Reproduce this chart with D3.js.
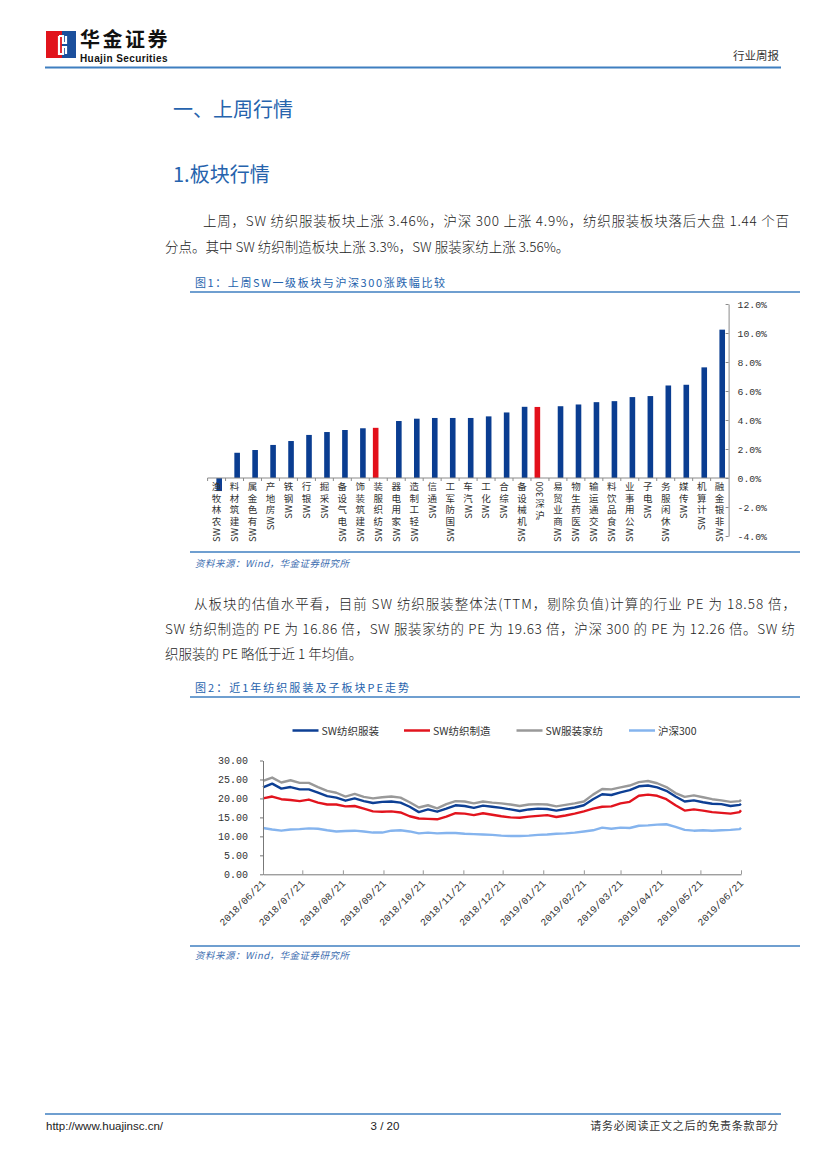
<!DOCTYPE html>
<html><head><meta charset="utf-8">
<script src="https://cdn.jsdelivr.net/npm/d3@7"></script>
<style>
html,body{margin:0;padding:0;background:#fff;}
svg{display:block;}
</style></head>
<body><svg id="page" width="827" height="1169"></svg>
<script>
// ---------- data: chart 1 ----------
const barCategories = ["SW农林牧渔","SW建筑材料","SW有色金属","SW房地产","SW钢铁","SW银行","SW采掘","SW电气设备","SW建筑装饰","SW纺织服装","SW家用电器","SW轻工制造","SW通信","SW国防军工","SW汽车","SW化工","SW综合","SW机械设备","沪深300","SW商业贸易","SW医药生物","SW交通运输","SW食品饮料","SW公用事业","SW电子","SW休闲服务","SW传媒","SW计算机","SW非银金融"];
const barValues = [-0.9,1.74,1.93,2.28,2.55,2.97,3.17,3.31,3.43,3.46,3.93,4.09,4.14,4.14,4.14,4.25,4.52,4.91,4.9,4.95,5.07,5.23,5.3,5.58,5.65,6.38,6.43,7.63,10.23];
const highlightCats = ["SW纺织服装","沪深300"];
const barTicks = [-4,-2,0,2,4,6,8,10,12];

// ---------- data: chart 2 ----------
const peDates = ["2018-06-21","2018-06-28","2018-07-05","2018-07-12","2018-07-19","2018-07-26","2018-08-02","2018-08-09","2018-08-16","2018-08-23","2018-08-30","2018-09-06","2018-09-13","2018-09-20","2018-09-27","2018-10-04","2018-10-11","2018-10-18","2018-10-25","2018-11-01","2018-11-08","2018-11-15","2018-11-22","2018-11-29","2018-12-06","2018-12-13","2018-12-20","2018-12-27","2019-01-03","2019-01-10","2019-01-17","2019-01-24","2019-01-31","2019-02-07","2019-02-14","2019-02-21","2019-02-28","2019-03-07","2019-03-14","2019-03-21","2019-03-28","2019-04-04","2019-04-11","2019-04-18","2019-04-25","2019-05-02","2019-05-09","2019-05-16","2019-05-23","2019-05-30","2019-06-06","2019-06-13","2019-06-20","2019-06-21"];
const peTextile = [22.9,23.9,22.6,23.0,22.4,22.4,21.5,20.6,20.2,19.4,20.0,19.3,18.8,19.1,19.2,18.9,17.8,16.4,17.1,16.5,17.3,18.2,18.0,17.5,18.1,17.8,17.5,17.1,16.7,17.1,17.3,17.2,16.8,17.2,17.6,18.2,19.8,21.1,20.9,21.6,22.2,23.2,23.4,22.9,22.0,20.5,19.2,19.5,19.0,18.6,18.5,18.0,18.3,18.58];
const peManufacture = [20.0,20.5,19.8,19.6,19.3,19.7,18.9,18.4,18.4,17.9,18.0,17.3,16.6,16.5,16.6,16.3,15.3,14.7,14.6,14.5,15.2,16.1,16.0,15.6,16.1,15.7,15.3,15.0,14.9,15.2,15.4,15.6,15.1,15.5,16.0,16.6,17.3,17.8,17.9,18.7,19.1,20.7,21.0,20.7,19.8,18.2,16.8,17.1,16.8,16.4,16.2,16.0,16.4,16.86];
const peApparel = [24.6,25.5,24.2,24.8,24.1,24.1,23.0,22.0,21.5,20.5,21.2,20.4,20.0,20.3,20.5,20.2,19.0,17.6,18.2,17.4,18.5,19.3,19.2,18.7,19.2,18.9,18.7,18.4,18.0,18.4,18.5,18.4,17.9,18.3,18.7,19.2,21.0,22.5,22.4,22.9,23.4,24.3,24.6,24.0,23.0,21.4,20.4,20.8,20.3,19.8,19.5,19.1,19.3,19.63];
const peHS300 = [12.2,11.8,11.5,11.8,11.9,12.1,12.0,11.6,11.3,11.4,11.5,11.3,11.0,11.0,11.5,11.6,11.3,10.8,11.0,10.8,10.9,10.9,10.7,10.6,10.5,10.4,10.2,10.1,10.1,10.2,10.4,10.5,10.7,10.8,11.0,11.3,11.6,12.3,12.0,12.3,12.2,12.8,12.9,13.1,13.2,12.5,11.7,11.5,11.6,11.5,11.6,11.7,11.9,12.26];
const peSeriesNames = ["SW纺织服装","SW纺织制造","SW服装家纺","沪深300"];
const peTicks = [0,5,10,15,20,25,30];
const peTickDates = ["2018/06/21","2018/07/21","2018/08/21","2018/09/21","2018/10/21","2018/11/21","2018/12/21","2019/01/21","2019/02/21","2019/03/21","2019/04/21","2019/05/21","2019/06/21"];

// ---------- styling ----------
const CJK = '"Noto Sans CJK SC","Noto Sans",sans-serif';
const MONO = '"Liberation Mono","DejaVu Sans Mono",monospace';
const SANS = '"Liberation Sans",Arial,sans-serif';
const BLUE_HEAD = "#2663ad";
const RULE = "#3f7fc0";
const BAR_BLUE = "#0a3d91";
const BAR_RED = "#e3101b";
const seriesColors = ["#0d3f94","#e2141e","#999999","#85b4ee"];

const svg = d3.select("#page");
svg.append("rect").attr("width",827).attr("height",1169).attr("fill","#fff");

// ---------- header ----------
const hdr = svg.append("g");
hdr.append("rect").attr("x",46).attr("y",31).attr("width",16).attr("height",27).attr("fill","#e1141c");
hdr.append("rect").attr("x",62).attr("y",31).attr("width",14).attr("height",27).attr("fill","#1b4f9c");
hdr.append("path").attr("d","M59,36 h4 v7 h3 v-7 M59,36 v18 h4 v-7 h3 v7").attr("fill","none").attr("stroke","#fff").attr("stroke-width",2.2);
hdr.append("text").attr("x",80).attr("y",47).attr("font-family",CJK).attr("font-weight","bold").attr("font-size",20).attr("letter-spacing",2.5).attr("fill","#111").text("华金证券");
hdr.append("text").attr("x",80).attr("y",62).attr("font-family",SANS).attr("font-weight","bold").attr("font-size",10).attr("letter-spacing",0.4).attr("fill","#111").text("Huajin Securities");
hdr.append("text").attr("x",779).attr("y",60).attr("text-anchor","end").attr("font-family",CJK).attr("font-size",11.5).attr("fill","#333").text("行业周报");
hdr.append("line").attr("x1",45).attr("x2",781).attr("y1",67.5).attr("y2",67.5).attr("stroke",RULE).attr("stroke-width",2);

// ---------- headings & paragraphs ----------
svg.append("text").attr("x",173).attr("y",117).attr("font-family",CJK).attr("font-size",20).attr("fill",BLUE_HEAD).text("一、上周行情");
svg.append("text").attr("x",173).attr("y",182).attr("font-family",CJK).attr("font-size",20).attr("fill",BLUE_HEAD).text("1.板块行情");

function para(x, y, str, len) {
  const t = svg.append("text").attr("x",x).attr("y",y).attr("font-family",CJK).attr("font-weight",300).attr("font-size",13.5).attr("fill","#222").text(str);
  if (len) t.attr("textLength",len).attr("lengthAdjust","spacing");
  return t;
}
para(203,226,"上周，SW 纺织服装板块上涨 3.46%，沪深 300 上涨 4.9%，纺织服装板块落后大盘 1.44 个百",586);
para(165,252,"分点。其中 SW 纺织制造板块上涨 3.3%，SW 服装家纺上涨 3.56%。");
para(194,609,"从板块的估值水平看，目前 SW 纺织服装整体法(TTM，剔除负值)计算的行业 PE 为 18.58 倍，",602);
para(165,634,"SW 纺织制造的 PE 为 16.86 倍，SW 服装家纺的 PE 为 19.63 倍，沪深 300 的 PE 为 12.26 倍。SW 纺",630);
para(165,659,"织服装的 PE 略低于近 1 年均值。");

// ---------- chart frames ----------
function frame(title, titleLen, yTitle, yTop, yBottom, ySrc) {
  svg.append("text").attr("x",195).attr("y",yTitle).attr("font-family",CJK).attr("font-size",11).attr("fill",BLUE_HEAD)
    .attr("textLength",titleLen).attr("lengthAdjust","spacing").text(title);
  svg.append("line").attr("x1",190).attr("x2",800).attr("y1",yTop).attr("y2",yTop).attr("stroke",RULE).attr("stroke-width",1.5);
  svg.append("line").attr("x1",190).attr("x2",800).attr("y1",yBottom).attr("y2",yBottom).attr("stroke",RULE).attr("stroke-width",1.5);
  svg.append("text").attr("x",195).attr("y",ySrc).attr("font-family",CJK).attr("font-size",9.5).attr("font-style","italic").attr("fill","#3c6db0")
    .attr("textLength",154).attr("lengthAdjust","spacing").text("资料来源：Wind，华金证券研究所");
}
frame("图1：上周SW一级板块与沪深300涨跌幅比较",250,287,292,552,567);
frame("图2：近1年纺织服装及子板块PE走势",214,692,697,946,959);

// ---------- chart 1: bars ----------
const xB = d3.scaleBand().domain(barCategories).range([207.6,728.6]);
const yB = d3.scaleLinear().domain([-4,12]).range([536,304]);
const g1 = svg.append("g");
const bw = 5.6;
g1.selectAll("rect.bar").data(barCategories).join("rect")
  .attr("class","bar")
  .attr("x",(c)=>{const hi=highlightCats.includes(c); return xB(c)+xB.bandwidth()/2+(hi?-2.6:2.6)-bw/2;})
  .attr("width",bw)
  .attr("y",(c,i)=>yB(Math.max(0,barValues[i])))
  .attr("height",(c,i)=>Math.abs(yB(barValues[i])-yB(0)))
  .attr("fill",(c)=>highlightCats.includes(c)?BAR_RED:BAR_BLUE);

g1.append("line").attr("x1",207.6).attr("x2",728.6).attr("y1",yB(0)).attr("y2",yB(0)).attr("stroke","#8a8a8a").attr("stroke-width",1);
g1.selectAll("line.bt").data(barCategories).join("line").attr("class","bt")
  .attr("x1",c=>xB(c)).attr("x2",c=>xB(c)).attr("y1",yB(0)).attr("y2",yB(0)+3).attr("stroke","#8a8a8a");

const ax1 = g1.append("g").attr("transform","translate(728.6,0)")
  .call(d3.axisRight(yB).tickValues(barTicks).tickFormat(d=>d.toFixed(1)+"%").tickSizeInner(-3).tickSizeOuter(0).tickPadding(9));
ax1.select(".domain").attr("stroke","#8a8a8a");
ax1.selectAll(".tick line").attr("stroke","#8a8a8a");
ax1.selectAll(".tick text").attr("font-family",MONO).attr("font-size",9.8).attr("fill","#333");

// vertical category labels: one text element per label, last character on top,
// CJK upright, Latin glyphs turned to read upward
const LFS = 9.5, ADV = 11.6;
const meas = svg.append("text").attr("font-family",CJK).attr("font-size",LFS).attr("x",-100).attr("y",-100);
function advOf(ch){ meas.text(ch); return meas.node().getComputedTextLength(); }
barCategories.forEach(c=>{
  const cx = xB(c)+xB.bandwidth()/2;
  const tokens = c.match(/[A-Za-z0-9]+|./g);
  const xs = new Array(c.length), ys = new Array(c.length), rs = new Array(c.length);
  let idx = c.length;
  let y = yB(0)+3.5;
  for (let ti = tokens.length-1; ti >= 0; ti--) {
    const t = tokens[ti]; idx -= t.length;
    if (/^[A-Za-z0-9]+$/.test(t)) {
      const advs = Array.from(t).map(advOf);
      const total = d3.sum(advs);
      let yb = y + total;
      for (let k = 0; k < t.length; k++) { xs[idx+k] = (cx+LFS*0.36).toFixed(2); ys[idx+k] = yb.toFixed(2); rs[idx+k] = -90; yb -= advs[k]; }
      y += total + 1.5;
    } else {
      xs[idx] = (cx-LFS/2).toFixed(2); ys[idx] = (y+LFS*0.9).toFixed(2); rs[idx] = 0;
      y += ADV;
    }
  }
  g1.append("text").attr("font-family",CJK).attr("font-size",LFS).attr("fill","#333")
    .attr("x",xs.join(" ")).attr("y",ys.join(" ")).attr("rotate",rs.join(" ")).text(c);
});
meas.remove();

// ---------- chart 2: PE lines ----------
const parse = d3.timeParse("%Y-%m-%d");
const parseTick = d3.timeParse("%Y/%m/%d");
const dates = peDates.map(parse);
const xT = d3.scaleTime().domain([parse("2018-06-21"),parse("2019-06-21")]).range([263,741]);
const yT = d3.scaleLinear().domain([0,30]).range([874.3,760.5]);
const g2 = svg.append("g");
const seriesVals = [peTextile,peManufacture,peApparel,peHS300];
const lineGen = d3.line().x((d,i)=>xT(dates[i])).y(d=>yT(d));
[3,2,1,0].forEach(s=>{
  g2.append("path").datum(seriesVals[s]).attr("d",lineGen).attr("fill","none")
    .attr("stroke",seriesColors[s]).attr("stroke-width",2.4).attr("stroke-linejoin","round");
});
const ay2 = g2.append("g").attr("transform","translate(263,0)")
  .call(d3.axisLeft(yT).tickValues(peTicks).tickFormat(d3.format(".2f")).tickSizeInner(3).tickSizeOuter(0).tickPadding(12));
ay2.select(".domain").attr("stroke","#777");
ay2.selectAll(".tick line").attr("stroke","#777");
ay2.selectAll(".tick text").attr("font-family",MONO).attr("font-size",10).attr("fill","#333");
const tickDates = peTickDates.map(parseTick);
const ax2 = g2.append("g").attr("transform","translate(0,874.3)")
  .call(d3.axisBottom(xT).tickValues(tickDates).tickFormat("").tickSizeInner(-4).tickSizeOuter(0));
ax2.select(".domain").attr("stroke","#777");
ax2.selectAll(".tick line").attr("stroke","#999");
g2.selectAll("text.xl").data(tickDates).join("text").attr("class","xl")
  .attr("transform",(d)=>`translate(${xT(d)+3},${884}) rotate(-45)`)
  .attr("text-anchor","end").attr("font-family",MONO).attr("font-size",10).attr("fill","#333")
  .text((d,i)=>peTickDates[i]);

// legend
const legX = [292.5,404,516.5,629];
peSeriesNames.forEach((n,i)=>{
  g2.append("line").attr("x1",legX[i]).attr("x2",legX[i]+26).attr("y1",730.5).attr("y2",730.5).attr("stroke",seriesColors[i]).attr("stroke-width",2.5);
  g2.append("text").attr("x",legX[i]+29).attr("y",734.5).attr("font-family",CJK).attr("font-size",10.5).attr("fill","#333").text(n);
});

// ---------- footer ----------
svg.append("line").attr("x1",45).attr("x2",781).attr("y1",1114).attr("y2",1114).attr("stroke",RULE).attr("stroke-width",1.5);
svg.append("text").attr("x",46).attr("y",1130).attr("font-family",SANS).attr("font-size",11.5).attr("fill","#222").text("http://www.huajinsc.cn/");
svg.append("text").attr("x",385).attr("y",1130).attr("text-anchor","middle").attr("font-family",SANS).attr("font-size",11.5).attr("fill","#222").text("3 / 20");
svg.append("text").attr("x",779).attr("y",1130).attr("text-anchor","end").attr("font-family",CJK).attr("font-size",11).attr("fill","#333").attr("letter-spacing",0.8).text("请务必阅读正文之后的免责条款部分");
</script>
</body></html>
